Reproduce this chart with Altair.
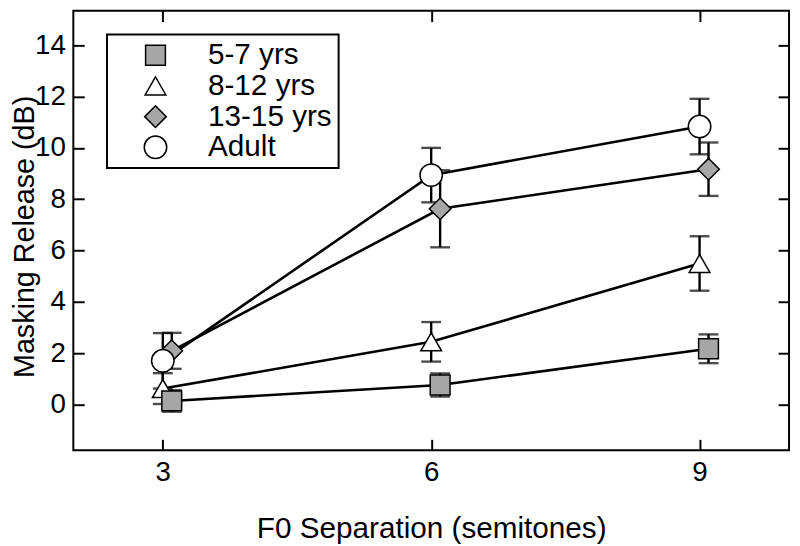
import altair as alt
import pandas as pd

# ---- data ----
groups = ["5-7 yrs", "8-12 yrs", "13-15 yrs", "Adult"]
separations = [3, 6, 9]
mr_5_7 = [0.15, 0.77, 2.18]
err_5_7 = [0.42, 0.45, 0.56]
mr_8_12 = [0.63, 2.45, 5.50]
err_8_12 = [0.60, 0.77, 1.06]
mr_13_15 = [2.10, 7.63, 9.17]
err_13_15 = [0.70, 1.50, 1.04]
mr_adult = [1.71, 8.94, 10.83]
err_adult = [1.08, 1.06, 1.08]
x_ticks = [3, 6, 9]
y_ticks = [0, 2, 4, 6, 8, 10, 12, 14]

series = {
    "5-7 yrs": (mr_5_7, err_5_7),
    "8-12 yrs": (mr_8_12, err_8_12),
    "13-15 yrs": (mr_13_15, err_13_15),
    "Adult": (mr_adult, err_adult),
}
draw_order = ["8-12 yrs", "5-7 yrs", "13-15 yrs", "Adult"]

rows = []
for k, g in enumerate(draw_order):
    vals, errs = series[g]
    for s, v, e in zip(separations, vals, errs):
        rows.append({"group": g, "sep": s, "mr": v, "err": e, "z": k})
df = pd.DataFrame(rows)

FONT = "Liberation Sans"
GRAY = "#a6a6a6"

xscale = alt.Scale(domain=[2, 10], nice=False, zero=False)
yscale = alt.Scale(domain=[-1.77, 15.34], nice=False, zero=False)

x_axis = alt.Axis(values=x_ticks, orient="bottom", domain=False, grid=False,
                  offset=-11, tickSize=11, tickWidth=2, tickColor="black",
                  labelPadding=9, labelFontSize=28, labelFont=FONT, labelColor="black",
                  labelFontWeight="normal",
                  title="F0 Separation (semitones)", titleFont=FONT, titleFontSize=30,
                  titleFontWeight="normal", titleColor="black", titlePadding=27)
y_axis = alt.Axis(values=y_ticks, orient="left", domain=False, grid=False,
                  offset=-11, tickSize=11, tickWidth=2, tickColor="black",
                  labelPadding=8, labelFontSize=28, labelFont=FONT, labelColor="black",
                  labelFontWeight="normal",
                  title="Masking Release (dB)", titleFont=FONT, titleFontSize=29,
                  titleFontWeight="normal", titleColor="black",
                  titleBaseline="alphabetic", titleX=-51, titleY=228)

base = alt.Chart(df).transform_calculate(
    xpos="datum.sep + ((datum.group == '5-7 yrs' || datum.group == '13-15 yrs') ? 0.1 : 0)",
    lo="datum.mr - datum.err",
    hi="datum.mr + datum.err",
)

Xn = alt.X("xpos:Q", scale=xscale, axis=None)
Yn = alt.Y("mr:Q", scale=yscale, axis=None)

lines = base.mark_line(color="black", strokeWidth=2.6).encode(
    x=Xn, y=Yn, detail="group:N", order="xpos:Q"
)
err_rules = base.mark_rule(color="black", strokeWidth=2.4).encode(
    x=Xn, y=alt.Y("lo:Q", scale=yscale, axis=None), y2="hi:Q"
)
cap_hi = base.mark_tick(color="black", thickness=2.4, size=20, orient="horizontal").encode(
    x=Xn, y=alt.Y("hi:Q", scale=yscale, axis=None)
)
cap_lo = base.mark_tick(color="black", thickness=2.4, size=20, orient="horizontal").encode(
    x=Xn, y=alt.Y("lo:Q", scale=yscale, axis=None)
)

legend = alt.Legend(title=None, orient="none", legendX=34, legendY=24,
                    strokeColor="black", padding=6, fillColor="white",
                    labelFont=FONT, labelFontSize=30, labelColor="black", labelLimit=400,
                    symbolOffset=28, labelOffset=38, rowPadding=1,
                    symbolStrokeColor="black", symbolStrokeWidth=1.5, symbolOpacity=1)

points = base.mark_point(filled=True, opacity=1, strokeWidth=1.5).encode(
    x=alt.X("xpos:Q", scale=xscale, axis=x_axis),
    y=alt.Y("mr:Q", scale=yscale, axis=y_axis),
    shape=alt.Shape("group:N", scale=alt.Scale(domain=groups,
                    range=["square", "triangle-up", "diamond", "circle"]), legend=legend),
    fill=alt.Fill("group:N", scale=alt.Scale(domain=groups,
                  range=[GRAY, "white", GRAY, "white"]), legend=legend),
    stroke=alt.Stroke("group:N", scale=alt.Scale(domain=groups,
                      range=["black", "black", "black", "black"]), legend=legend),
    size=alt.Size("group:N", scale=alt.Scale(domain=groups,
                  range=[400, 515, 625, 361]), legend=legend),
    order="z:Q",
)

mirror = base.mark_point(opacity=0).encode(
    x=alt.X("xpos:Q", scale=xscale,
            axis=alt.Axis(values=x_ticks, orient="top", domain=False, grid=False, labels=False,
                          offset=-11, tickSize=11, tickWidth=2, tickColor="black", title=None)),
    y=alt.Y("mr:Q", scale=yscale,
            axis=alt.Axis(values=y_ticks, orient="right", domain=False, grid=False, labels=False,
                          offset=-11, tickSize=11, tickWidth=2, tickColor="black", title=None)),
)

chart = alt.layer(lines, err_rules, cap_hi, cap_lo, points, mirror).resolve_axis(
    x="independent", y="independent"
).properties(
    width=723, height=444,
    autosize=alt.AutoSizeParams(type="none"),
    padding={"left": 66, "top": 0, "right": 3, "bottom": 94},
).configure_view(stroke="black", strokeWidth=2).configure_legend(strokeWidth=2)

chart.save("out.html", embed_options={"renderer": "svg", "actions": False})
